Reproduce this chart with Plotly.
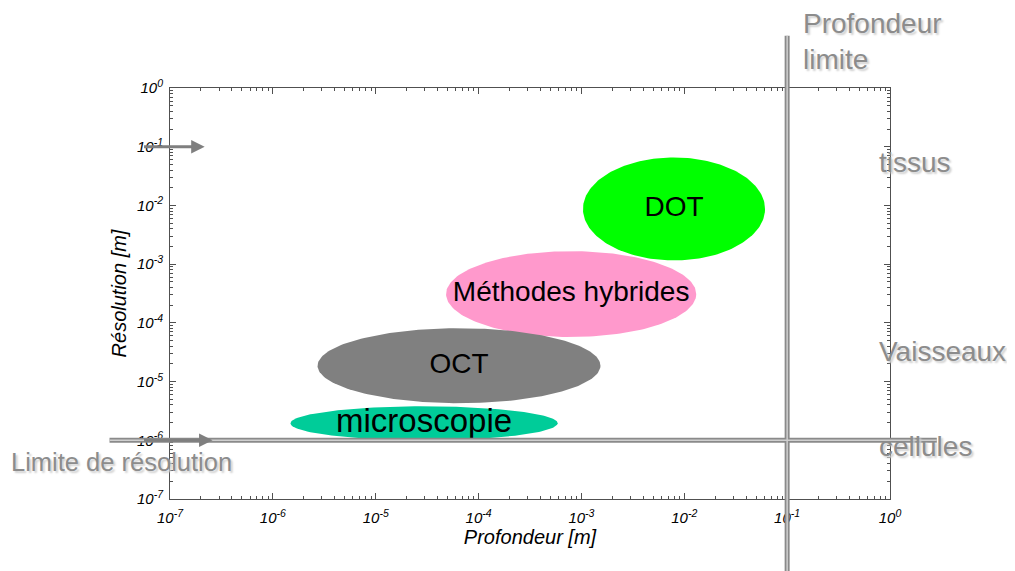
import numpy as np
import plotly.graph_objects as go

# ---- data (log10 units) ----
methods = ["DOT", "Méthodes hybrides", "OCT", "microscopie"]
center_depth = [-2.10, -3.10, -4.19, -4.53]      # log10 profondeur [m]
center_res = [-2.06, -3.51, -4.73, -5.71]        # log10 résolution [m]
half_depth = [0.885, 1.216, 1.375, 1.299]        # decades
half_res = [0.876, 0.731, 0.638, 0.289]          # decades
colors = ["#00ff00", "#ff99cc", "#808080", "#00cc99"]
label_sizes = [28, 28, 28, 33]

tick_exponents = [-7, -6, -5, -4, -3, -2, -1, 0]
tick_text = ["10<sup>-7</sup>", "10<sup>-6</sup>", "10<sup>-5</sup>", "10<sup>-4</sup>",
             "10<sup>-3</sup>", "10<sup>-2</sup>", "10<sup>-1</sup>", "10<sup>0</sup>"]

depth_limit = -1        # log10 m
res_limit = -6          # log10 m
scale_labels = ["tissus", "Vaisseaux", "cellules"]
scale_levels = [-1.27, -4.48, -6.10]
arrow_levels = [-1, -6]

FONT = "Liberation Sans, Arial, Helvetica, sans-serif"
GRAY = "#8c8c8c"
SHADOW = "2px 2px 2px #cfcfcf"

fig = go.Figure()
t = np.linspace(0, 2 * np.pi, 200)
for name, cx, cy, hx, hy, c in zip(methods, center_depth, center_res, half_depth, half_res, colors):
    fig.add_trace(go.Scatter(
        x=10 ** (cx + hx * np.cos(t)), y=10 ** (cy + hy * np.sin(t)),
        mode="lines", fill="toself", fillcolor=c, line=dict(width=0, color=c),
        hoverinfo="skip", name=name))
fig.add_trace(go.Scatter(
    x=[10 ** v for v in center_depth], y=[10 ** v for v in center_res],
    mode="text", text=methods, textposition="middle center",
    textfont=dict(family=FONT, size=label_sizes, color="black"), hoverinfo="skip"))
# invisible trace for the linear helper axes
fig.add_trace(go.Scatter(x=[-7, 0], y=[-7, 0], xaxis="x2", yaxis="y2",
                         mode="markers", marker=dict(opacity=0), hoverinfo="skip"))

tickvals = [10.0 ** e for e in tick_exponents]
axis_common = dict(
    type="log", tickmode="array", tickvals=tickvals, ticktext=tick_text,
    showgrid=False, zeroline=False,
    showline=True, linecolor="#505050", linewidth=1, mirror="allticks",
    ticks="inside", ticklen=6, tickcolor="#505050",
    minor=dict(ticks="inside", ticklen=3, dtick="D1", tickcolor="#505050", showgrid=False),
    tickfont=dict(family=FONT, size=15, color="black", style="italic"),
)
fig.update_layout(
    width=1015, height=571, showlegend=False,
    paper_bgcolor="white", plot_bgcolor="white",
    margin=dict(l=162, r=133, t=80, b=80),
    xaxis=dict(axis_common, range=[-7, 0], ticklabelstandoff=5,
               title=dict(text="Profondeur [m]", font=dict(family=FONT, size=20, style="italic", color="black"), standoff=3)),
    yaxis=dict(axis_common, range=[-7, 0], ticklabelstandoff=3,
               title=dict(text="Résolution [m]", font=dict(family=FONT, size=20, style="italic", color="black"), standoff=4)),
    xaxis2=dict(range=[-7, 0], overlaying="x", visible=False, fixedrange=True),
    yaxis2=dict(range=[-7, 0], overlaying="y", visible=False, fixedrange=True),
)

# limit lines (double-line look)
for w, c in [(5, "#8a8a8a"), (1.5, "#cfcfcf")]:
    fig.add_shape(type="line", xref="x2", yref="paper", x0=depth_limit, x1=depth_limit,
                  y0=1.127, y1=-0.18, line=dict(color=c, width=w), layer="above")
    fig.add_shape(type="line", xref="paper", yref="y2", x0=-0.084, x1=1.065,
                  y0=res_limit, y1=res_limit, line=dict(color=c, width=w), layer="above")

# arrows on the y axis
for lvl, head in zip(arrow_levels, [-6.663, -6.586]):
    fig.add_annotation(x=head, y=lvl, xref="x2", yref="y2", ax=-7.267, ay=lvl,
                       axref="x2", ayref="y2", text="", showarrow=True,
                       arrowhead=2, arrowsize=0.9, arrowwidth=3, arrowcolor="#7f7f7f", standoff=0)

label_font = dict(family=FONT, size=28, color=GRAY, shadow=SHADOW)
for txt, lvl in zip(scale_labels, scale_levels):
    fig.add_annotation(x=-0.13, y=lvl, xref="x2", yref="y2", text=txt, showarrow=False,
                       xanchor="left", yanchor="middle", font=label_font)
fig.add_annotation(x=-0.223, y=-6.37, xref="paper", yref="y2", text="Limite de résolution",
                   showarrow=False, xanchor="left", yanchor="middle",
                   font=dict(label_font, size=25.5))
fig.add_annotation(x=-0.87, y=1.113, xref="x2", yref="paper", text="Profondeur<br>limite",
                   showarrow=False, xanchor="left", yanchor="middle", align="left",
                   font=label_font)

fig.write_html("out.html")
